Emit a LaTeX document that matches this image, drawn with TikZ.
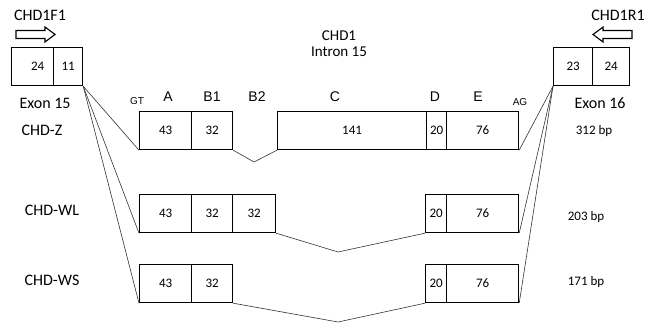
\documentclass[tikz,border=0pt]{standalone}
\usepackage{fontspec}
\setmainfont{Carlito}
\newfontfamily\arialf{Liberation Sans}
\begin{document}
\begin{tikzpicture}[x=1pt,y=-1pt,
  exbox/.style={draw, line width=1.2pt, inner sep=0pt, anchor=north west, minimum height=38pt, font=\fontsize{13}{13}\selectfont},
  conn/.style={line width=0.6pt, draw=black!80},
  lbl/.style={font=\fontsize{16}{16}\selectfont, inner sep=0pt},
  bp/.style={font=\fontsize{13}{13}\selectfont, inner sep=0pt},
  seg/.style={font=\arialf\fontsize{14}{14}\selectfont, inner sep=0pt},
  blockarrow/.style={draw, line width=1.1pt, fill=white}]
\useasboundingbox (0,0) rectangle (646,323);
% primers
\node[lbl] (f1) at (40,15) {CHD1F1};
\node[lbl] (r1) at (618,15) {CHD1R1};
\draw[blockarrow] (16,30.5) -- (45,30.5) -- (45,27) -- (55,34.5) -- (45,42) -- (45,38.5) -- (16,38.5) -- cycle;
\draw[blockarrow] (632,30.5) -- (603,30.5) -- (603,27) -- (593,34.5) -- (603,42) -- (603,38.5) -- (632,38.5) -- cycle;
% exon 15 / 16
\node[exbox, minimum width=42pt] (e15a) at (11,47) {\hspace*{10pt}24};
\node[exbox, minimum width=29pt] (e15b) at (53,47) {11};
\node[exbox, minimum width=39pt] (e16a) at (553,47) {23};
\node[exbox, minimum width=37pt] (e16b) at (592,47) {24};
\node[lbl] (x15) at (45,103) {Exon 15};
\node[lbl] (x16) at (600,103) {Exon 16};
\node[font=\fontsize{15}{15}\selectfont, align=center, inner sep=0pt] (intr) at (339,44) {CHD1\\[1pt]Intron 15};
% segment labels
\node[font=\arialf\fontsize{10}{10}\selectfont, inner sep=0pt] (gt) at (137,101) {GT};
\node[font=\arialf\fontsize{10}{10}\selectfont, inner sep=0pt] (ag) at (520,102) {AG};
\node[seg] (la) at (168,97) {A};
\node[seg] (lb1) at (212,97) {B1};
\node[seg] (lb2) at (257,97) {B2};
\node[seg] (lc) at (335,97) {C};
\node[seg] (ld) at (435,97) {D};
\node[seg] (le) at (478,97) {E};
% row labels
\node[lbl] (rz) at (42,130) {CHD-Z};
\node[lbl] (rwl) at (52,210) {CHD-WL};
\node[lbl] (rws) at (52,280) {CHD-WS};
\node[bp] (bz) at (594,131) {312 bp};
\node[bp] (bwl) at (586,217) {203 bp};
\node[bp] (bws) at (586,282) {171 bp};
% CHD-Z row
\node[exbox, minimum width=52pt] (za) at (139,111) {43};
\node[exbox, minimum width=41pt] (zb1) at (191,111) {32};
\node[exbox, minimum width=149pt] (zc) at (277,111) {141};
\node[exbox, minimum width=20pt] (zd) at (426,111) {20};
\node[exbox, minimum width=72pt] (ze) at (446,111) {76};
% CHD-WL row
\node[exbox, minimum width=52pt] (wla) at (139,194) {43};
\node[exbox, minimum width=41pt] (wlb1) at (191,194) {32};
\node[exbox, minimum width=43pt] (wlb2) at (232,194) {32};
\node[exbox, minimum width=21pt] (wld) at (425,194) {20};
\node[exbox, minimum width=72pt] (wle) at (446,194) {76};
% CHD-WS row
\node[exbox, minimum width=52pt] (wsa) at (139,264) {43};
\node[exbox, minimum width=41pt] (wsb1) at (191,264) {32};
\node[exbox, minimum width=21pt] (wsd) at (425,264) {20};
\node[exbox, minimum width=72pt] (wse) at (446,264) {76};
% introns (splice connectors)
\coordinate (vz) at (254,162);
\coordinate (vwl) at (338,252);
\coordinate (vws) at (338,322);
\draw[conn] (zb1.south east) -- (vz) -- (zc.south west);
\draw[conn] (wlb2.south east) -- (vwl) -- (wld.south west);
\draw[conn] (wsb1.south east) -- (vws) -- (wsd.south west);
% fan lines
\draw[conn] (e15b.south east) -- (za.south west);
\draw[conn] (e15b.south east) -- (wla.south west);
\draw[conn] (e15b.south east) -- (wsa.south west);
\draw[conn] (e16a.south west) -- (ze.south east);
\draw[conn] (e16a.south west) -- (wle.south east);
\draw[conn] (e16a.south west) -- (wse.south east);
\end{tikzpicture}
\end{document}
